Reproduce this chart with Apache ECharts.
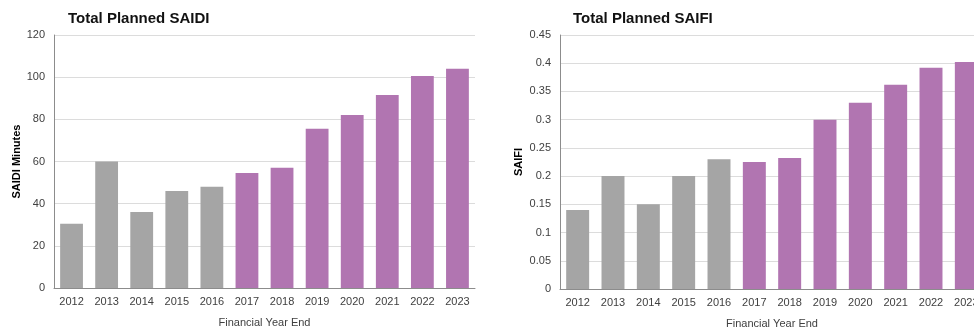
<!DOCTYPE html>
<html><head><meta charset="utf-8">
<script src="https://cdn.jsdelivr.net/npm/echarts@6/dist/echarts.min.js"></script>
<style>html,body{margin:0;padding:0;background:#fff}#c{width:974px;height:327px}</style>
</head><body><div id="c"></div>
<script>
const years = ['2012','2013','2014','2015','2016','2017','2018','2019','2020','2021','2022','2023'];
const saidi = [30.5, 60, 36, 46, 48, 54.5, 57, 75.5, 82, 91.5, 100.5, 104];
const saifi = [0.14, 0.2, 0.15, 0.2, 0.23, 0.225, 0.232, 0.3, 0.33, 0.362, 0.392, 0.402];
const historicCount = 5;
const GREY = '#a5a5a5', PURPLE = '#b175b1';
const font = 'Liberation Sans, Arial, sans-serif';
function colored(arr){ return arr.map((v,i)=>({value:v, itemStyle:{color: i<historicCount?GREY:PURPLE}})); }
const chart = echarts.init(document.getElementById('c'), null, {renderer:'canvas'});
const xAxisBase = {
  type:'category', data: years,
  axisLine:{lineStyle:{color:'#8c8c8c', width:1}},
  axisTick:{show:false},
  axisLabel:{color:'#404040', fontSize:11, fontFamily:font, margin:8},
  name:'Financial Year End', nameLocation:'middle', nameGap:29,
  nameTextStyle:{color:'#404040', fontSize:11, fontFamily:font}
};
const yAxisBase = {
  type:'value', min:0,
  axisLine:{show:true, lineStyle:{color:'#8c8c8c', width:1}},
  axisTick:{show:false},
  splitLine:{lineStyle:{color:'#dcdcdc', width:1}},
  axisLabel:{color:'#404040', fontSize:11, fontFamily:font, margin:9},
  nameLocation:'middle',
  nameTextStyle:{color:'#000', fontSize:11, fontWeight:'bold', fontFamily:font}
};
chart.setOption({
  animation:false,
  title:[
    {text:'Total Planned SAIDI', left:63, top:6, textStyle:{fontSize:15, fontWeight:'bold', color:'#111', fontFamily:font}},
    {text:'Total Planned SAIFI', left:568, top:6, textStyle:{fontSize:15, fontWeight:'bold', color:'#111', fontFamily:font}}
  ],
  grid:[
    {left:54, top:35, width:421, height:253, containLabel:false, outerBoundsMode:'none'},
    {left:560, top:35, width:424, height:254, containLabel:false, outerBoundsMode:'none'}
  ],
  xAxis:[
    Object.assign({}, xAxisBase, {gridIndex:0}),
    Object.assign({}, xAxisBase, {gridIndex:1})
  ],
  yAxis:[
    Object.assign({}, yAxisBase, {gridIndex:0, max:120, interval:20, name:'SAIDI Minutes', nameGap:32}),
    Object.assign({}, yAxisBase, {gridIndex:1, max:0.45, interval:0.05, name:'SAIFI', nameGap:36})
  ],
  series:[
    {type:'bar', xAxisIndex:0, yAxisIndex:0, data:colored(saidi), barWidth:'65%'},
    {type:'bar', xAxisIndex:1, yAxisIndex:1, data:colored(saifi), barWidth:'65%'}
  ]
});
</script></body></html>
